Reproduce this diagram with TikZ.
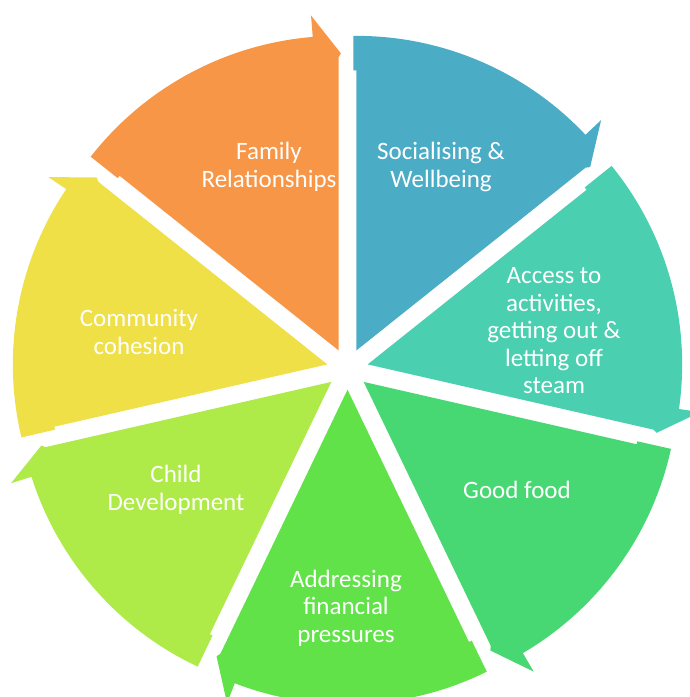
\documentclass[tikz,border=0pt]{standalone}
\usepackage{fontspec}
\setmainfont{Carlito}
\usepackage{xcolor}
\definecolor{segBlue}{HTML}{4BACC6}
\definecolor{segTeal}{HTML}{4ACFB0}
\definecolor{segGreen}{HTML}{48D873}
\definecolor{segLime}{HTML}{61E248}
\definecolor{segLight}{HTML}{AEEA48}
\definecolor{segYellow}{HTML}{F0E048}
\definecolor{segOrange}{HTML}{F79646}
\usepackage{tikz}
\usetikzlibrary{positioning,calc}
% one wedge of the ring, head edge along angle 0, tail edge at 51.43
\newcommand{\segmentPath}{%
  (0,0) -- (51.43:280) -- ++(141.43:3) -- (52:314.5)
  arc[start angle=52, end angle=4.7, radius=314.5]
  -- (4.7:336) -- (-0.46:297) -- (0:293) -- cycle}
\tikzset{%
  segLabel/.style={%
    text=white,
    inner sep=0pt,
    align=center,
    font=\fontsize{25}{27.5}\selectfont
  }
}

\begin{document}
\begin{tikzpicture}[x=1pt, y=1pt]
            % Styles for the wedges
            \tikzset{%
                segmentStyle/.style={%
                        shift={(hub)},
                        shift={(#1+25.71:20.7)},
                        rotate=#1
                    }
            }
            \useasboundingbox (0,0) rectangle (689,697);
            \coordinate (hub) at (347.5,328);

            % Socialising
            \begin{scope}[segmentStyle=38.57]
                \fill[segBlue] \segmentPath;
            \end{scope}
            \node[segLabel] (social) at (441,530) {Socialising \&\\Wellbeing};

            % Access to activities
            \begin{scope}[segmentStyle=-12.86]
                \fill[segTeal] \segmentPath;
            \end{scope}
            \node[segLabel] (access) at (554,366) {Access to\\activities,\\getting out \&\\letting off\\steam};

            % Good food
            \begin{scope}[segmentStyle=-64.29]
                \fill[segGreen] \segmentPath;
            \end{scope}
            \node[segLabel] (food) at (517,207) {Good food};

            % Financial pressures
            \begin{scope}[segmentStyle=-115.71]
                \fill[segLime] \segmentPath;
            \end{scope}
            \node[segLabel] (finance) at (346,89) {Addressing\\financial\\pressures};

            % Child development
            \begin{scope}[segmentStyle=-167.14]
                \fill[segLight] \segmentPath;
            \end{scope}
            \node[segLabel] (child) at (176,207) {Child\\Development};

            % Community cohesion
            \begin{scope}[segmentStyle=141.43]
                \fill[segYellow] \segmentPath;
            \end{scope}
            \node[segLabel] (community) at (139,365) {Community\\cohesion};

            % Family relationships
            \begin{scope}[segmentStyle=90]
                \fill[segOrange] \segmentPath;
            \end{scope}
            \node[segLabel] (family) at (269,530) {Family\\Relationships};
\end{tikzpicture}
\end{document}
